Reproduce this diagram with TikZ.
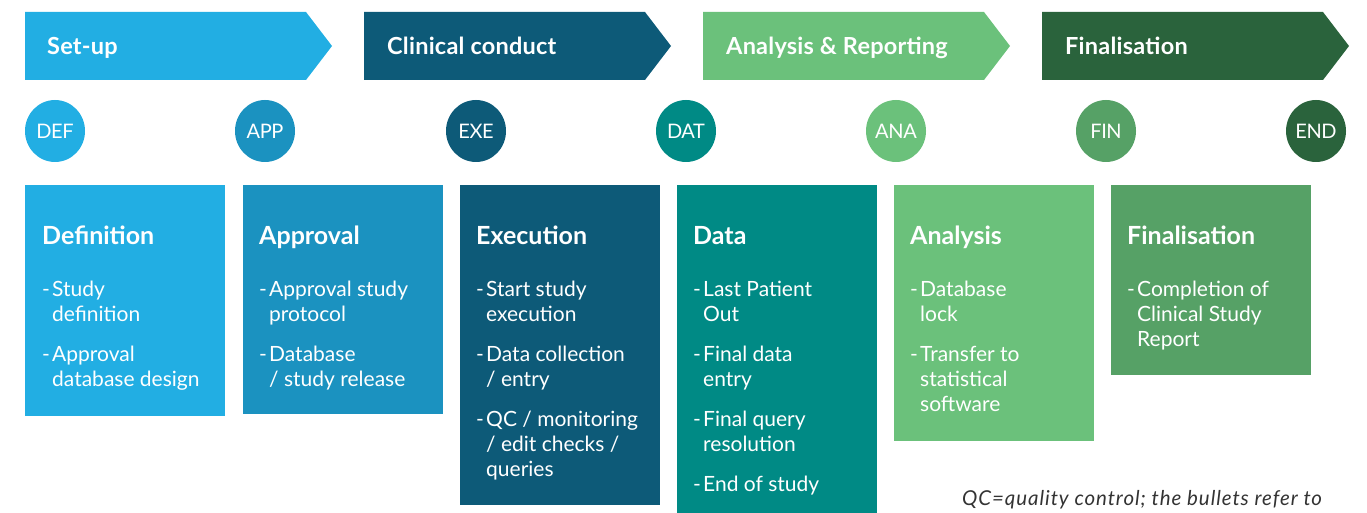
\documentclass[tikz,border=0pt]{standalone}
\usepackage{fontspec}
\setmainfont{Lato}
\usetikzlibrary{calc,shapes.geometric}

% phase palette
\definecolor{cSetup}{HTML}{22AEE3}
\definecolor{cAppr}{HTML}{1B92C0}
\definecolor{cExec}{HTML}{0D5A78}
\definecolor{cData}{HTML}{008A85}
\definecolor{cAna}{HTML}{6BC17B}
\definecolor{cFin}{HTML}{56A166}
\definecolor{cEnd}{HTML}{2A633C}
\definecolor{cNote}{HTML}{333333}

% bullet list: one dash column, 25pt lines, extra gap between items
\newcommand\dsh{\makebox[10pt][l]{-}}
\newcommand\gapp{\\[15pt]}

\tikzset{
  banner/.style={fill=#1, draw=none},
  bannertext/.style={text=white, font=\fontsize{23.5}{27}\selectfont\bfseries\addfontfeature{LetterSpace=1}, anchor=base west, inner sep=0pt},
  milestone/.style={ellipse, fill=#1, minimum width=60pt, minimum height=62pt, inner sep=0pt,
                    text=white, font=\fontsize{20}{24}\selectfont\addfontfeature{LetterSpace=-2}},
  phasebox/.style={fill=#1, draw=none, anchor=north west, minimum width=200pt, inner sep=0pt},
  boxtitle/.style={text=white, font=\fontsize{25}{29}\selectfont\bfseries, anchor=base west, inner sep=0pt},
  boxlist/.style={text=white, font=\fontsize{21}{25}\selectfont, anchor=base west, inner sep=0pt},
  note/.style={text=cNote, font=\fontsize{20.5}{24}\selectfont\itshape\addfontfeature{LetterSpace=4.5}, anchor=base west, inner sep=0pt}
}

\begin{document}
\begin{tikzpicture}[x=1pt, y=-1pt]
\useasboundingbox (0,0) rectangle (1367,513);

% phase banners (arrow-shaped)
\foreach \x/\c in {25/cSetup, 364/cExec, 703/cAna, 1042/cEnd}{
  \fill[banner=\c] (\x,12) -- (\x+281,12) -- (\x+307,46) -- (\x+281,80) -- (\x,80) -- cycle;
}
\node[bannertext] (hSetup) at (47,55) {Set-up};
\node[bannertext] (hClin)  at (387,55) {Clinical conduct};
\node[bannertext] (hAna)   at (726,55) {Analysis \& Reporting};
\node[bannertext] (hFin)   at (1065,55) {Finalisation};

% milestones
\node[milestone=cSetup] (mDEF) at (55,131)  {DEF};
\node[milestone=cAppr]  (mAPP) at (265,131) {APP};
\node[milestone=cExec]  (mEXE) at (476,131) {EXE};
\node[milestone=cData]  (mDAT) at (686,131) {DAT};
\node[milestone=cAna]   (mANA) at (896,131) {ANA};
\node[milestone=cFin]   (mFIN) at (1106,131) {FIN};
\node[milestone=cEnd]   (mEND) at (1316,131) {END};

% phase boxes
\node[phasebox=cSetup, minimum height=231pt] (bDef)  at (25,185)   {};
\node[phasebox=cAppr,  minimum height=229pt] (bAppr) at (243,185)  {};
\node[phasebox=cExec,  minimum height=320pt] (bExec) at (460,185)  {};
\node[phasebox=cData,  minimum height=330pt] (bData) at (677,185)  {};
\node[phasebox=cAna,   minimum height=256pt] (bAna)  at (894,185)  {};
\node[phasebox=cFin,   minimum height=190pt] (bFin)  at (1111,185) {};

% titles
\node[boxtitle] (tDef)  at (42,244)   {Definition};
\node[boxtitle] (tAppr) at (259,244)  {Approval};
\node[boxtitle] (tExec) at (476,244)  {Execution};
\node[boxtitle] (tData) at (693,244)  {Data};
\node[boxtitle] (tAna)  at (910,244)  {Analysis};
\node[boxtitle] (tFin)  at (1127,244) {Finalisation};

% bullet lists
\node[boxlist] (lDef) at (42,296) {\begin{tabular}[t]{@{}l@{}l@{}}
  \dsh & Study\\ & definition\gapp
  \dsh & Approval\\ & database design
\end{tabular}};
\node[boxlist] (lAppr) at (259,296) {\begin{tabular}[t]{@{}l@{}l@{}}
  \dsh & Approval study\\ & protocol\gapp
  \dsh & Database\\ & / study release
\end{tabular}};
\node[boxlist] (lExec) at (476,296) {\begin{tabular}[t]{@{}l@{}l@{}}
  \dsh & Start study\\ & execution\gapp
  \dsh & Data collection\\ & / entry\gapp
  \dsh & QC / monitoring\\ & / edit checks /\\ & queries
\end{tabular}};
\node[boxlist] (lData) at (693,296) {\begin{tabular}[t]{@{}l@{}l@{}}
  \dsh & Last Patient\\ & Out\gapp
  \dsh & Final data\\ & entry\gapp
  \dsh & Final query\\ & resolution\gapp
  \dsh & End of study
\end{tabular}};
\node[boxlist] (lAna) at (910,296) {\begin{tabular}[t]{@{}l@{}l@{}}
  \dsh & Database\\ & lock\gapp
  \dsh & Transfer to\\ & statistical\\ & software
\end{tabular}};
\node[boxlist] (lFin) at (1127,296) {\begin{tabular}[t]{@{}l@{}l@{}}
  \dsh & Completion of\\ & Clinical Study\\ & Report
\end{tabular}};

% footnote
\node[note] (fn) at (962,505) {QC=quality control; the bullets refer to};
\end{tikzpicture}
\end{document}
